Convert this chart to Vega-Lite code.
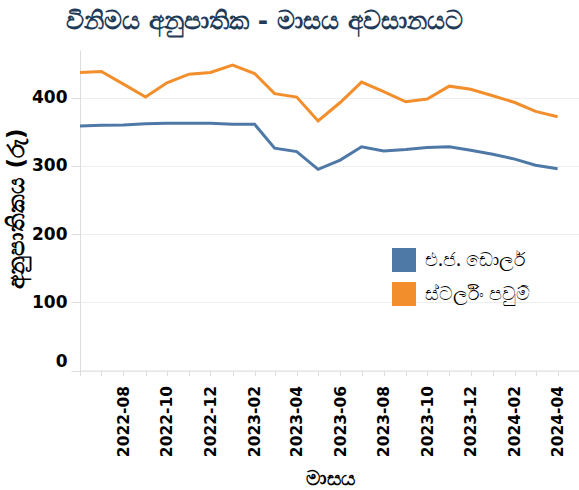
{
  "$schema": "https://vega.github.io/schema/vega-lite/v6.json",
  "width": 499,
  "height": 320.5,
  "autosize": {"type": "none"},
  "padding": {"left": 80, "top": 50, "right": 0, "bottom": 119.5},
  "background": "white",
  "title": {
    "text": "විනිමය අනුපාතික - මාසය අවසානයට",
    "fontSize": 25,
    "fontWeight": "bold",
    "color": "#1f3b57",
    "anchor": "middle",
    "frame": "group",
    "dx": -65,
    "offset": 16
  },
  "data": {
    "values": [
      {"month": "2022-06-01", "currency": "එ.ජ. ඩොලර්", "rate": 358.5},
      {"month": "2022-07-01", "currency": "එ.ජ. ඩොලර්", "rate": 359.5},
      {"month": "2022-08-01", "currency": "එ.ජ. ඩොලර්", "rate": 360},
      {"month": "2022-09-01", "currency": "එ.ජ. ඩොලර්", "rate": 362},
      {"month": "2022-10-01", "currency": "එ.ජ. ඩොලර්", "rate": 362.5},
      {"month": "2022-11-01", "currency": "එ.ජ. ඩොලර්", "rate": 362.5},
      {"month": "2022-12-01", "currency": "එ.ජ. ඩොලර්", "rate": 362.5},
      {"month": "2023-01-01", "currency": "එ.ජ. ඩොලර්", "rate": 361},
      {"month": "2023-02-01", "currency": "එ.ජ. ඩොලර්", "rate": 361},
      {"month": "2023-03-01", "currency": "එ.ජ. ඩොලර්", "rate": 326},
      {"month": "2023-04-01", "currency": "එ.ජ. ඩොලර්", "rate": 321},
      {"month": "2023-05-01", "currency": "එ.ජ. ඩොලර්", "rate": 295},
      {"month": "2023-06-01", "currency": "එ.ජ. ඩොලර්", "rate": 308.5},
      {"month": "2023-07-01", "currency": "එ.ජ. ඩොලර්", "rate": 328},
      {"month": "2023-08-01", "currency": "එ.ජ. ඩොලර්", "rate": 322},
      {"month": "2023-09-01", "currency": "එ.ජ. ඩොලර්", "rate": 324},
      {"month": "2023-10-01", "currency": "එ.ජ. ඩොලර්", "rate": 327},
      {"month": "2023-11-01", "currency": "එ.ජ. ඩොලර්", "rate": 328},
      {"month": "2023-12-01", "currency": "එ.ජ. ඩොලර්", "rate": 323},
      {"month": "2024-01-01", "currency": "එ.ජ. ඩොලර්", "rate": 317},
      {"month": "2024-02-01", "currency": "එ.ජ. ඩොලර්", "rate": 310},
      {"month": "2024-03-01", "currency": "එ.ජ. ඩොලර්", "rate": 301},
      {"month": "2024-04-01", "currency": "එ.ජ. ඩොලර්", "rate": 296},
      {"month": "2022-06-01", "currency": "ස්ටර්ලිං පවුම්", "rate": 437},
      {"month": "2022-07-01", "currency": "ස්ටර්ලිං පවුම්", "rate": 438.5},
      {"month": "2022-08-01", "currency": "ස්ටර්ලිං පවුම්", "rate": 420},
      {"month": "2022-09-01", "currency": "ස්ටර්ලිං පවුම්", "rate": 401},
      {"month": "2022-10-01", "currency": "ස්ටර්ලිං පවුම්", "rate": 422},
      {"month": "2022-11-01", "currency": "ස්ටර්ලිං පවුම්", "rate": 434.5},
      {"month": "2022-12-01", "currency": "ස්ටර්ලිං පවුම්", "rate": 437},
      {"month": "2023-01-01", "currency": "ස්ටර්ලිං පවුම්", "rate": 448},
      {"month": "2023-02-01", "currency": "ස්ටර්ලිං පවුම්", "rate": 435.5},
      {"month": "2023-03-01", "currency": "ස්ටර්ලිං පවුම්", "rate": 406},
      {"month": "2023-04-01", "currency": "ස්ටර්ලිං පවුම්", "rate": 401},
      {"month": "2023-05-01", "currency": "ස්ටර්ලිං පවුම්", "rate": 366},
      {"month": "2023-06-01", "currency": "ස්ටර්ලිං පවුම්", "rate": 393},
      {"month": "2023-07-01", "currency": "ස්ටර්ලිං පවුම්", "rate": 423},
      {"month": "2023-08-01", "currency": "ස්ටර්ලිං පවුම්", "rate": 409},
      {"month": "2023-09-01", "currency": "ස්ටර්ලිං පවුම්", "rate": 394},
      {"month": "2023-10-01", "currency": "ස්ටර්ලිං පවුම්", "rate": 398},
      {"month": "2023-11-01", "currency": "ස්ටර්ලිං පවුම්", "rate": 417},
      {"month": "2023-12-01", "currency": "ස්ටර්ලිං පවුම්", "rate": 412.5},
      {"month": "2024-01-01", "currency": "ස්ටර්ලිං පවුම්", "rate": 403},
      {"month": "2024-02-01", "currency": "ස්ටර්ලිං පවුම්", "rate": 393},
      {"month": "2024-03-01", "currency": "ස්ටර්ලිං පවුම්", "rate": 380},
      {"month": "2024-04-01", "currency": "ස්ටර්ලිං පවුම්", "rate": 372}
    ]
  },
  "mark": {"type": "line", "strokeWidth": 3},
  "encoding": {
    "x": {
      "field": "month",
      "type": "temporal",
      "title": "මාසය",
      "scale": {"type": "utc", "domain": [{"year": 2022, "month": 6, "date": 1, "utc": true}, {"year": 2024, "month": 5, "date": 1, "utc": true}]},
      "axis": {
        "tickCount": {"interval": "month", "step": 1},
        "labelExpr": "(utcmonth(datum.value) % 2 == 1 && utcyear(datum.value) * 12 + utcmonth(datum.value) > 2022 * 12 + 5) ? utcFormat(datum.value, '%Y-%m') : ''",
        "labelAngle": -90,
        "labelFontSize": 15.5,
        "labelFontWeight": "bold",
        "labelColor": "black",
        "labelOverlap": false,
        "labelBound": false,
        "labelFlush": false,
        "labelPadding": 10,
        "grid": false,
        "domainColor": "#dddddd",
        "tickColor": "#dddddd",
        "tickSize": 5,
        "titleFontSize": 20,
        "titleFontWeight": "bold",
        "titleColor": "black",
        "titleY": 108,
        "titleBaseline": "middle"
      }
    },
    "y": {
      "field": "rate",
      "type": "quantitative",
      "title": "අනුපාතිකය (රු)",
      "scale": {"domain": [0, 470], "nice": false},
      "axis": {
        "values": [0, 100, 200, 300, 400],
        "labelFontSize": 17,
        "labelFontWeight": "bold",
        "labelColor": "black",
        "labelPadding": 4,
        "labelFlush": true,
        "gridColor": "#eeeeee",
        "domainColor": "#dddddd",
        "tickColor": "#dddddd",
        "tickSize": 9,
        "titleFontSize": 23,
        "titleFontWeight": "bold",
        "titleColor": "black",
        "titleX": -64,
        "titleY": 158,
        "titleAngle": -90,
        "titleAlign": "center",
        "titleBaseline": "middle"
      }
    },
    "color": {
      "field": "currency",
      "type": "nominal",
      "scale": {"domain": ["එ.ජ. ඩොලර්", "ස්ටර්ලිං පවුම්"], "range": ["#4e79a7", "#f28e2b"]},
      "legend": {
        "title": null,
        "orient": "none",
        "legendX": 312,
        "legendY": 198,
        "symbolType": "square",
        "symbolSize": 576,
        "symbolStrokeWidth": 0,
        "labelFont": "Noto Sans",
        "labelFontSize": 19,
        "labelColor": "black",
        "labelOffset": 9,
        "labelLimit": 300,
        "rowPadding": 10,
        "padding": 0,
        "encode": {"symbols": {"update": {"fill": {"scale": "color", "field": "value"}, "opacity": {"value": 1}}}}
      }
    }
  },
  "config": {"view": {"stroke": null}, "font": "DejaVu Sans"}
}
